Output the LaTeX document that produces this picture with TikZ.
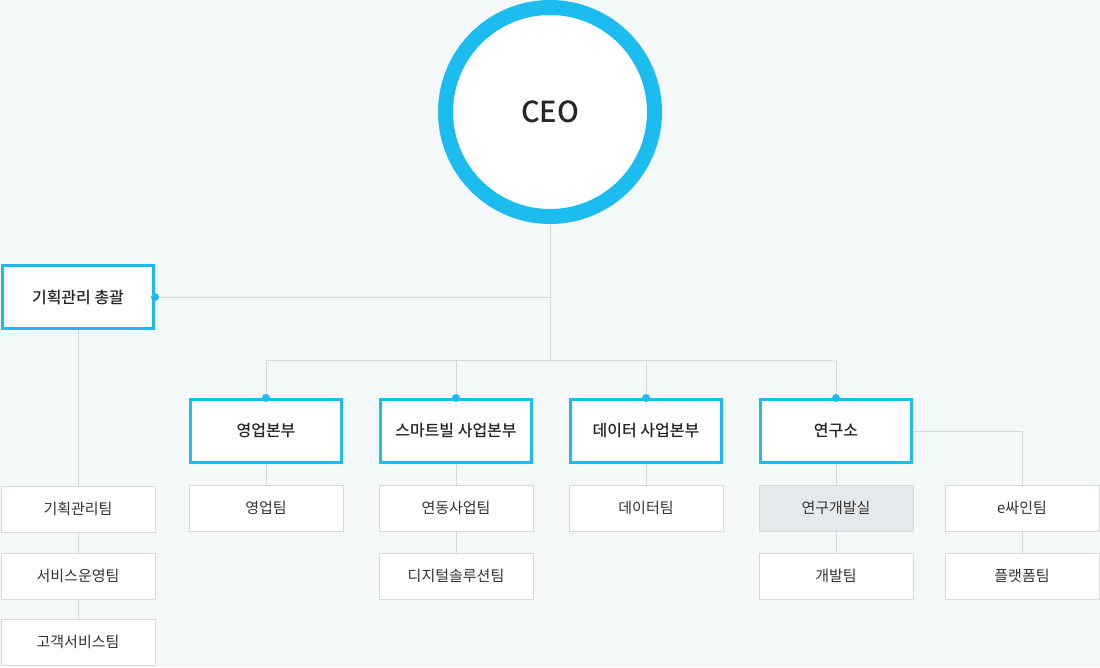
\documentclass[tikz,border=0pt]{standalone}
\usepackage{fontspec}
\setmainfont{Noto Sans CJK KR}
\newfontfamily\krb{Noto Sans CJK KR Medium}
\definecolor{cy}{HTML}{1DBCEF}
\definecolor{bg}{HTML}{F5F8F9}
\definecolor{ln}{HTML}{D6DADC}
\definecolor{gf}{HTML}{E6E9EC}
\begin{document}
\begin{tikzpicture}[x=1pt,y=-1pt,
 big/.style={draw=cy,line width=3pt,fill=white,minimum width=151pt,minimum height=63pt,inner sep=0pt,font=\krb\fontsize{16}{18}\selectfont,text=black!85},
 sm/.style={draw=ln,line width=0.8pt,fill=white,minimum width=154pt,minimum height=46pt,inner sep=0pt,font=\fontsize{15}{17}\selectfont,text=black!80},
 ln/.style={draw=ln,line width=1pt},
 dot/.style={circle,fill=cy,inner sep=0pt,minimum size=8pt}]
\fill[bg] (0,0) rectangle (1100,667);
\useasboundingbox (0,0) rectangle (1100,667);
\coordinate (j1) at (550,297);
\coordinate (j2) at (550,360);
\coordinate (h1) at (266,360);
\coordinate (h2) at (834,360);
\coordinate (rr) at (1022,431);
\node[circle,draw=cy,line width=15pt,fill=white,minimum size=209pt,font=\krb\fontsize{29}{32}\selectfont,text=black!85] (ceo) at (550,112) {CEO};
\node[big] (g) at (78,297) {기획관리 총괄};
\node[big] (b1) at (266,431) {영업본부};
\node[big] (b2) at (456,431) {스마트빌 사업본부};
\node[big] (b3) at (646,431) {데이터 사업본부};
\node[big] (b4) at (836,431) {연구소};
\node[sm] (s1) at (78,509) {기획관리팀};
\node[sm] (s2) at (78,576) {서비스운영팀};
\node[sm] (s3) at (78,642) {고객서비스팀};
\node[sm] (t1) at (266,508) {영업팀};
\node[sm] (u1) at (456,508) {연동사업팀};
\node[sm] (u2) at (456,576) {디지털솔루션팀};
\node[sm] (v1) at (646,508) {데이터팀};
\node[sm,fill=gf] (w1) at (836,508) {연구개발실};
\node[sm] (w2) at (836,576) {개발팀};
\node[sm] (x1) at (1022,508) {e싸인팀};
\node[sm] (x2) at (1022,576) {플랫폼팀};
\draw[ln] (ceo.south) -- (j2);
\draw[ln] (g.east) -- (j1);
\draw[ln] (h1) -- (h2);
\foreach \n in {b1,b2,b3,b4}{\draw[ln] (\n.north|-h1) -- (\n.north);}
\draw[ln] (g.south) -- (s1.north);
\draw[ln] (s1.south) -- (s2.north);
\draw[ln] (s2.south) -- (s3.north);
\draw[ln] (b1.south) -- (t1.north);
\draw[ln] (b2.south) -- (u1.north);
\draw[ln] (u1.south) -- (u2.north);
\draw[ln] (b3.south) -- (v1.north);
\draw[ln] (b4.south) -- (w1.north);
\draw[ln] (w1.south) -- (w2.north);
\draw[ln] (b4.east) -- (rr) -- (x1.north);
\draw[ln] (x1.south) -- (x2.north);
\node[dot] at (g.east) {};
\foreach \n in {b1,b2,b3,b4}{\node[dot] at (\n.north) {};}
\end{tikzpicture}
\end{document}
